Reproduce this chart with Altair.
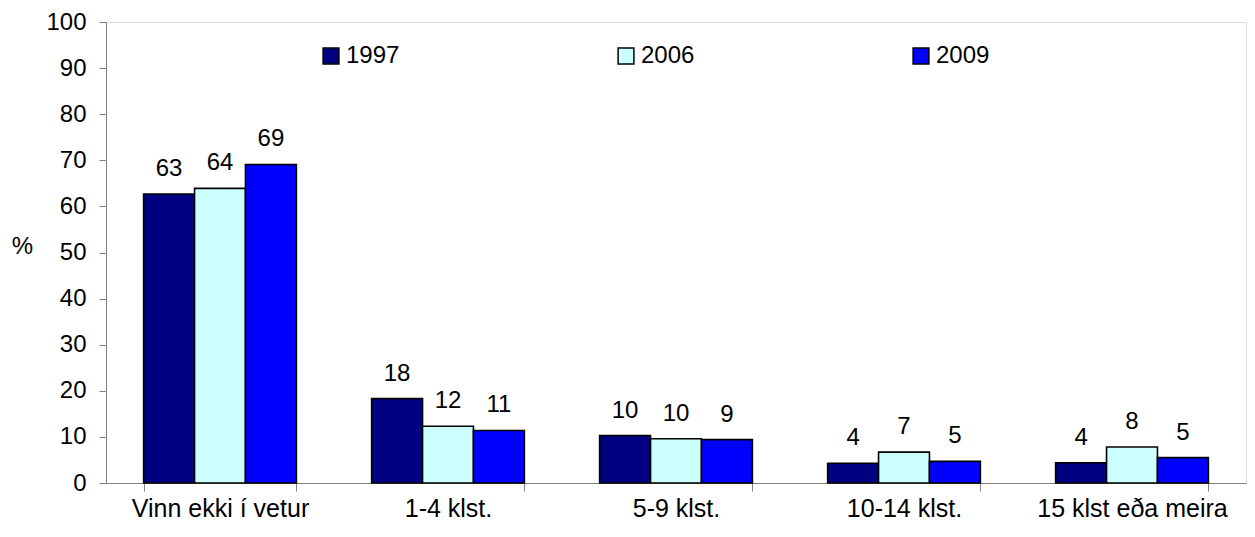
import altair as alt
import pandas as pd

categories = ["Vinn ekki í vetur", "1-4 klst.", "5-9 klst.", "10-14 klst.", "15 klst eða meira"]
years = ["1997", "2006", "2009"]
v1997 = [62.7, 18.3, 10.3, 4.3, 4.4]
v2006 = [63.9, 12.3, 9.6, 6.7, 7.8]
v2009 = [69.1, 11.4, 9.4, 4.7, 5.5]
l1997 = ["63", "18", "10", "4", "4"]
l2006 = ["64", "12", "10", "7", "8"]
l2009 = ["69", "11", "9", "5", "5"]
colors = ["#000080", "#CCFFFF", "#0000FF"]
y_ticks = [0, 10, 20, 30, 40, 50, 60, 70, 80, 90, 100]

rows = []
for yr, vals, labs in zip(years, [v1997, v2006, v2009], [l1997, l2006, l2009]):
    for c, v, l in zip(categories, vals, labs):
        rows.append({"cat": c, "year": yr, "value": v, "label": l})
df = pd.DataFrame(rows)

FONT = "Liberation Sans"

x = alt.X("cat:N", sort=categories, title=None,
          scale=alt.Scale(paddingInner=0.33, paddingOuter=0.165),
          axis=alt.Axis(labelAngle=0, labelFontSize=25, labelFont=FONT, labelColor="black",
                        tickBand="extent", tickSize=8, tickColor="#808080", domainColor="#808080",
                        labelPadding=5, labelLimit=400))
xo = alt.XOffset("year:N", sort=years, scale=alt.Scale(paddingInner=0, paddingOuter=0))
y = alt.Y("value:Q", scale=alt.Scale(domain=[0, 100], nice=False),
          axis=alt.Axis(values=y_ticks, title="%", titleAngle=0, titleFontSize=24, titleFont=FONT,
                        titleFontWeight="normal", titleColor="black", titleX=-84, titleY=224,
                        titleAlign="center", titleBaseline="middle",
                        labelFontSize=24, labelFont=FONT, labelColor="black", labelPadding=13,
                        tickSize=7, tickColor="#808080", domainColor="#808080", grid=False))

bars = alt.Chart(df).mark_bar(stroke="black", strokeWidth=1.6).encode(
    x=x, xOffset=xo, y=y,
    color=alt.Color("year:N", sort=years, scale=alt.Scale(domain=years, range=colors),
                    legend=alt.Legend(title=None, orient="none", direction="horizontal",
                                      legendX=213, legendY=22, symbolType="square", symbolSize=250,
                                      symbolStrokeColor="black", symbolStrokeWidth=1.5,
                                      symbolOpacity=1, labelFontSize=24, labelFont=FONT,
                                      labelColor="black", labelOffset=3, columnPadding=214))
)

texts = alt.Chart(df).mark_text(dy=-18, baseline="alphabetic", fontSize=24, font=FONT, color="black").encode(
    x=x, xOffset=xo, y=y, text="label:N"
)

chart = alt.layer(bars, texts).properties(
    width=1140, height=461,
    autosize=alt.AutoSizeParams(type="none"),
    padding={"left": 98, "top": 14, "right": 1, "bottom": 44},
).configure_view(stroke=None).configure(background="white")

chart.save("out.html", embed_options={"renderer": "svg", "actions": False})
